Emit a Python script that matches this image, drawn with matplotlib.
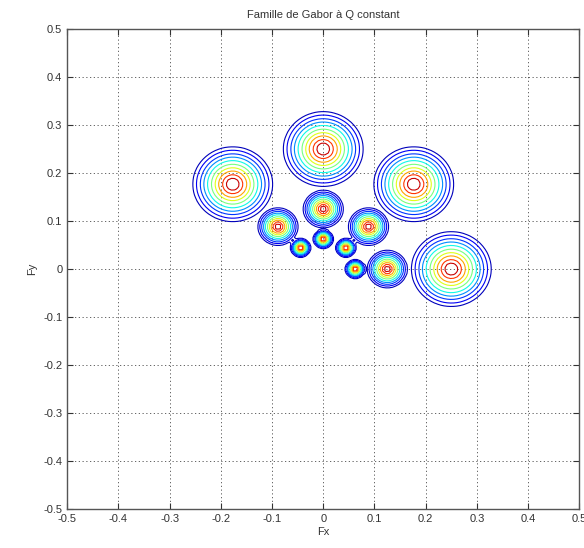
import numpy as np
import matplotlib
matplotlib.use("Agg")
import matplotlib.pyplot as plt

plt.rcParams['font.family'] = ['Liberation Sans', 'DejaVu Sans']

# Gabor family: centre frequencies (constant Q -> width grows with radius)
radii = [0.25, 0.125, 0.0625]
angles_deg = [0, 45, 90, 135]
q_ratio = 0.145          # sigma / radius
levels = [0.1, 0.15, 0.22, 0.3, 0.4, 0.52, 0.64, 0.75, 0.86, 0.94]

ticks = [-0.5, -0.4, -0.3, -0.2, -0.1, 0, 0.1, 0.2, 0.3, 0.4, 0.5]
tick_labels = ['-0.5', '-0.4', '-0.3', '-0.2', '-0.1', '0', '0.1', '0.2', '0.3', '0.4', '0.5']

# frequency grid
f = np.linspace(-0.5, 0.5, 160)
Fx, Fy = np.meshgrid(f, f)

# each filter keeps its own contours (no merging of the tails)
Z = np.zeros_like(Fx)
for r in radii:
    s = q_ratio * r
    for a in angles_deg:
        cx = r * np.cos(np.deg2rad(a))
        cy = r * np.sin(np.deg2rad(a))
        g = np.exp(-((Fx - cx)**2 + (Fy - cy)**2) / (2 * s**2))
        Z = np.maximum(Z, g)

fig = plt.figure(figsize=(5.84, 5.48), dpi=100)
ax = fig.add_axes([0.115, 0.071, 0.877, 0.876])
ax.contour(Fx, Fy, Z, levels=levels, cmap='jet', vmin=0.05, vmax=1.0, linewidths=0.8)

ax.set_xlim(-0.5, 0.5)
ax.set_ylim(-0.5, 0.5)
ax.set_xticks(ticks)
ax.set_xticklabels(tick_labels)
ax.set_yticks(ticks)
ax.set_yticklabels(tick_labels)
ax.grid(True, color='black', linestyle=(0, (1.5, 3)), linewidth=0.6, alpha=0.7)
ax.tick_params(direction='in', top=True, right=True, labelsize=8, length=4,
               colors='#333333')
for sp in ax.spines.values():
    sp.set_color('#555555')
    sp.set_linewidth(1.0)

ax.set_title('Famille de Gabor à Q constant', fontsize=8, color='#333333', pad=8)
ax.set_xlabel('Fx', fontsize=8, color='#333333', labelpad=2)
ax.set_ylabel('Fy', fontsize=8, color='#333333')

fig.savefig('out.png', dpi=100)
